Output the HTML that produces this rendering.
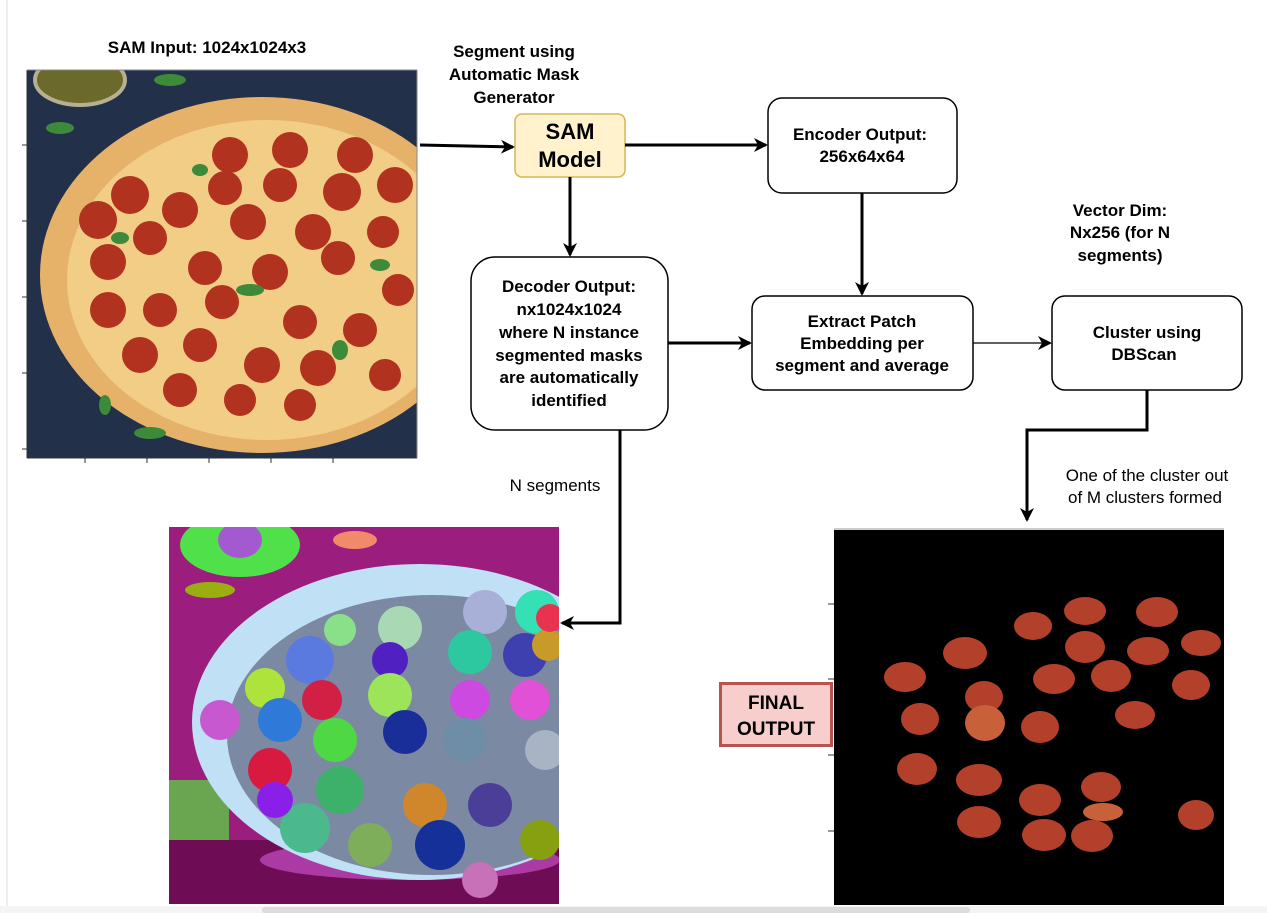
<!DOCTYPE html>
<html><head><meta charset="utf-8"><style>
html,body{margin:0;padding:0;background:#fff;width:1267px;height:913px;overflow:hidden}
svg{display:block}
text{font-family:"Liberation Sans",Arial,sans-serif}
.b{font-weight:bold;font-size:17px;fill:#000}
.n{font-size:17px;fill:#000}
</style></head><body>
<svg width="1267" height="913" viewBox="0 0 1267 913" xmlns="http://www.w3.org/2000/svg">
<defs>
<marker id="ah" markerWidth="14" markerHeight="14" refX="12" refY="7" orient="auto" markerUnits="userSpaceOnUse">
<path d="M0,0 L14,7 L0,14 L4,7 Z" fill="#000"/></marker>
<clipPath id="c1"><rect x="27" y="70" width="390" height="388"/></clipPath>
<clipPath id="c2"><rect x="169" y="527" width="390" height="377"/></clipPath>
</defs>
<line x1="7" y1="0" x2="7" y2="913" stroke="#ddd" stroke-width="1"/>
<rect x="0" y="906" width="1267" height="7" fill="#f4f4f4"/>
<rect x="262" y="907" width="708" height="6" rx="3" fill="#dcdcdc"/>

<!-- pizza image -->
<g clip-path="url(#c1)">
<rect x="27" y="70" width="390" height="388" fill="#22304a"/>
<ellipse cx="80" cy="80" rx="45" ry="25" fill="#6b6a2a" stroke="#b8b090" stroke-width="4"/>
<ellipse cx="262" cy="275" rx="222" ry="178" fill="#e6b26a"/>
<ellipse cx="267" cy="280" rx="200" ry="160" fill="#f1cd86"/>
<g fill="#b1321f">
<circle cx="230" cy="155" r="18"/><circle cx="290" cy="150" r="18"/><circle cx="355" cy="155" r="18"/>
<circle cx="130" cy="195" r="19"/><circle cx="180" cy="210" r="18"/><circle cx="225" cy="188" r="17"/><circle cx="280" cy="185" r="17"/><circle cx="342" cy="192" r="19"/><circle cx="395" cy="185" r="18"/>
<circle cx="98" cy="220" r="19"/><circle cx="150" cy="238" r="17"/><circle cx="248" cy="222" r="18"/><circle cx="313" cy="232" r="18"/><circle cx="383" cy="232" r="16"/>
<circle cx="108" cy="262" r="18"/><circle cx="205" cy="268" r="17"/><circle cx="270" cy="272" r="18"/><circle cx="338" cy="258" r="17"/><circle cx="398" cy="290" r="16"/>
<circle cx="108" cy="310" r="18"/><circle cx="160" cy="310" r="17"/><circle cx="222" cy="302" r="17"/><circle cx="300" cy="322" r="17"/><circle cx="360" cy="330" r="17"/>
<circle cx="140" cy="355" r="18"/><circle cx="200" cy="345" r="17"/><circle cx="262" cy="365" r="18"/><circle cx="318" cy="368" r="18"/><circle cx="385" cy="375" r="16"/>
<circle cx="180" cy="390" r="17"/><circle cx="240" cy="400" r="16"/><circle cx="300" cy="405" r="16"/>
</g>
<g fill="#3c8a3a">
<ellipse cx="60" cy="128" rx="14" ry="6"/><ellipse cx="170" cy="80" rx="16" ry="6"/><ellipse cx="200" cy="170" rx="8" ry="6"/><ellipse cx="250" cy="290" rx="14" ry="6"/><ellipse cx="120" cy="238" rx="9" ry="6"/><ellipse cx="340" cy="350" rx="8" ry="10"/><ellipse cx="150" cy="433" rx="16" ry="6"/><ellipse cx="105" cy="405" rx="6" ry="10"/><ellipse cx="380" cy="265" rx="10" ry="6"/>
</g>
</g>
<line x1="27" y1="70" x2="27" y2="458" stroke="#333"/><line x1="27" y1="458" x2="417" y2="458" stroke="#333"/><line x1="417" y1="70" x2="417" y2="458" stroke="#888"/><line x1="27" y1="70" x2="417" y2="70" stroke="#888"/>
<g stroke="#333"><line x1="22" y1="145" x2="27" y2="145"/><line x1="22" y1="221" x2="27" y2="221"/><line x1="22" y1="297" x2="27" y2="297"/><line x1="22" y1="373" x2="27" y2="373"/><line x1="22" y1="449" x2="27" y2="449"/>
<line x1="85" y1="458" x2="85" y2="463"/><line x1="147" y1="458" x2="147" y2="463"/><line x1="209" y1="458" x2="209" y2="463"/><line x1="271" y1="458" x2="271" y2="463"/><line x1="333" y1="458" x2="333" y2="463"/></g>

<!-- segmented image -->
<g clip-path="url(#c2)">
<rect x="169" y="527" width="390" height="377" fill="#9b1e7e"/>
<rect x="169" y="840" width="390" height="64" fill="#6e0d55"/>
<rect x="169" y="780" width="60" height="60" fill="#6aa650"/>
<ellipse cx="240" cy="545" rx="60" ry="32" fill="#4fe04a"/><ellipse cx="240" cy="540" rx="22" ry="18" fill="#a35ad0"/>
<ellipse cx="210" cy="590" rx="25" ry="8" fill="#9aae10"/><ellipse cx="355" cy="540" rx="22" ry="9" fill="#f08a6a"/>
<ellipse cx="410" cy="860" rx="150" ry="20" fill="#c44fc8" opacity=".7"/>
<ellipse cx="420" cy="722" rx="228" ry="158" fill="#bfe0f5"/>
<ellipse cx="432" cy="735" rx="205" ry="140" fill="#7b8aa2"/>
<g>
<circle cx="265" cy="688" r="20" fill="#aee33c"/><circle cx="280" cy="720" r="22" fill="#2f7ad8"/><circle cx="270" cy="770" r="22" fill="#d81a40"/><circle cx="305" cy="828" r="25" fill="#4cb88e"/>
<circle cx="310" cy="660" r="24" fill="#5a7ae0"/><circle cx="322" cy="700" r="20" fill="#d22044"/><circle cx="335" cy="740" r="22" fill="#4ed844"/><circle cx="340" cy="790" r="24" fill="#3db06a"/><circle cx="370" cy="845" r="22" fill="#7fae5a"/>
<circle cx="400" cy="628" r="22" fill="#a8d8b4"/><circle cx="390" cy="660" r="18" fill="#5020c0"/><circle cx="390" cy="695" r="22" fill="#9ce45a"/><circle cx="405" cy="732" r="22" fill="#1a2e9a"/><circle cx="425" cy="805" r="22" fill="#d0862a"/><circle cx="440" cy="845" r="25" fill="#16309a"/>
<circle cx="485" cy="612" r="22" fill="#a8b0d8"/><circle cx="470" cy="652" r="22" fill="#2ec8a0"/><circle cx="470" cy="700" r="20" fill="#cc4ae0"/><circle cx="465" cy="740" r="22" fill="#6e8ea8"/><circle cx="490" cy="805" r="22" fill="#4a3e98"/><circle cx="480" cy="880" r="18" fill="#c870b8"/>
<circle cx="537" cy="612" r="22" fill="#34e0b4"/><circle cx="525" cy="655" r="22" fill="#3e40b0"/><circle cx="530" cy="700" r="20" fill="#e250d8"/><circle cx="545" cy="750" r="20" fill="#a8b4c4"/><circle cx="540" cy="840" r="20" fill="#86a010"/><circle cx="548" cy="645" r="16" fill="#c89a2a"/><circle cx="550" cy="618" r="14" fill="#e83250"/>
<circle cx="220" cy="720" r="20" fill="#c858d0"/><circle cx="275" cy="800" r="18" fill="#8a20e8"/><circle cx="340" cy="630" r="16" fill="#8ae088"/>
</g>
</g>

<!-- final output -->
<rect x="834" y="530" width="390" height="375" fill="#000"/>
<line x1="834" y1="529" x2="1224" y2="529" stroke="#999"/>
<g stroke="#333"><line x1="828" y1="604" x2="834" y2="604"/><line x1="828" y1="679" x2="834" y2="679"/><line x1="828" y1="755" x2="834" y2="755"/><line x1="828" y1="831" x2="834" y2="831"/></g>
<g fill="#b2402a">
<ellipse cx="1033" cy="626" rx="19" ry="14"/><ellipse cx="1085" cy="611" rx="21" ry="14"/><ellipse cx="1157" cy="612" rx="21" ry="15"/>
<ellipse cx="965" cy="653" rx="22" ry="16"/><ellipse cx="1085" cy="647" rx="20" ry="16"/><ellipse cx="1148" cy="651" rx="21" ry="14"/><ellipse cx="1201" cy="643" rx="20" ry="13"/>
<ellipse cx="905" cy="677" rx="21" ry="15"/><ellipse cx="1054" cy="679" rx="21" ry="15"/><ellipse cx="1111" cy="676" rx="20" ry="16"/><ellipse cx="1191" cy="685" rx="19" ry="15"/>
<ellipse cx="984" cy="697" rx="19" ry="16"/><ellipse cx="985" cy="723" rx="20" ry="18" fill="#c8603a"/><ellipse cx="920" cy="719" rx="19" ry="16"/><ellipse cx="1040" cy="727" rx="19" ry="16"/><ellipse cx="1135" cy="715" rx="20" ry="14"/>
<ellipse cx="917" cy="769" rx="20" ry="16"/><ellipse cx="979" cy="780" rx="23" ry="16"/><ellipse cx="1040" cy="800" rx="21" ry="16"/><ellipse cx="1101" cy="787" rx="20" ry="15"/><ellipse cx="1103" cy="812" rx="20" ry="9" fill="#c8603a"/>
<ellipse cx="979" cy="822" rx="22" ry="16"/><ellipse cx="1044" cy="835" rx="22" ry="16"/><ellipse cx="1092" cy="836" rx="21" ry="16"/><ellipse cx="1196" cy="815" rx="18" ry="15"/>
</g>

<!-- labels -->
<text class="b" x="207" y="53" text-anchor="middle">SAM Input: 1024x1024x3</text>
<text class="b" x="514" y="57" text-anchor="middle">Segment using</text>
<text class="b" x="514" y="80" text-anchor="middle">Automatic Mask</text>
<text class="b" x="514" y="103" text-anchor="middle">Generator</text>
<text class="b" x="1120" y="216" text-anchor="middle">Vector Dim:</text>
<text class="b" x="1120" y="238" text-anchor="middle">Nx256 (for N</text>
<text class="b" x="1120" y="261" text-anchor="middle">segments)</text>
<text class="n" x="555" y="491" text-anchor="middle">N segments</text>
<text class="n" x="1147" y="481" text-anchor="middle">One of the cluster out</text>
<text class="n" x="1145" y="503" text-anchor="middle">of M clusters formed</text>

<!-- boxes -->
<rect x="515" y="114" width="110" height="63" rx="7" fill="#fff2cc" stroke="#d6b656" stroke-width="1.5"/>
<text x="570" y="139" text-anchor="middle" font-weight="bold" font-size="22">SAM</text>
<text x="570" y="167" text-anchor="middle" font-weight="bold" font-size="22">Model</text>

<rect x="768" y="98" width="189" height="95" rx="14" fill="#fff" stroke="#000" stroke-width="1.5"/>
<text class="b" x="860" y="140" text-anchor="middle">Encoder Output:</text>
<text class="b" x="862" y="162" text-anchor="middle">256x64x64</text>

<rect x="471" y="257" width="197" height="173" rx="24" fill="#fff" stroke="#000" stroke-width="1.5"/>
<text class="b" x="569" y="292" text-anchor="middle">Decoder Output:</text>
<text class="b" x="569" y="315" text-anchor="middle">nx1024x1024</text>
<text class="b" x="569" y="338" text-anchor="middle">where N instance</text>
<text class="b" x="569" y="361" text-anchor="middle">segmented masks</text>
<text class="b" x="569" y="383" text-anchor="middle">are automatically</text>
<text class="b" x="569" y="406" text-anchor="middle">identified</text>

<rect x="752" y="296" width="221" height="94" rx="13" fill="#fff" stroke="#000" stroke-width="1.5"/>
<text class="b" x="862" y="327" text-anchor="middle">Extract Patch</text>
<text class="b" x="862" y="349" text-anchor="middle">Embedding per</text>
<text class="b" x="862" y="371" text-anchor="middle">segment and average</text>

<rect x="1052" y="296" width="190" height="94" rx="13" fill="#fff" stroke="#000" stroke-width="1.5"/>
<text class="b" x="1147" y="338" text-anchor="middle">Cluster using</text>
<text class="b" x="1144" y="360" text-anchor="middle">DBScan</text>

<rect x="720.5" y="683.5" width="111" height="62" fill="#f8cecc" stroke="#b85450" stroke-width="3"/>
<text x="776" y="709" text-anchor="middle" font-weight="bold" font-size="19">FINAL</text>
<text x="776" y="735" text-anchor="middle" font-weight="bold" font-size="19">OUTPUT</text>

<!-- connectors -->
<g stroke="#000" stroke-width="3" fill="none">
<path d="M420,145 L513,147" marker-end="url(#ah)"/>
<path d="M625,145 L766,145" marker-end="url(#ah)"/>
<path d="M570,177 L570,255" marker-end="url(#ah)"/>
<path d="M862,193 L862,294" marker-end="url(#ah)"/>
<path d="M668,343 L750,343" marker-end="url(#ah)"/>
<path d="M1147,390 L1147,430 L1027,430 L1027,520" marker-end="url(#ah)"/>
<path d="M620,430 L620,623 L562,623" marker-end="url(#ah)"/>
</g>
<path d="M973,343 L1050,343" stroke="#000" stroke-width="1.3" fill="none" marker-end="url(#ah)"/>
</svg>
</body></html>
